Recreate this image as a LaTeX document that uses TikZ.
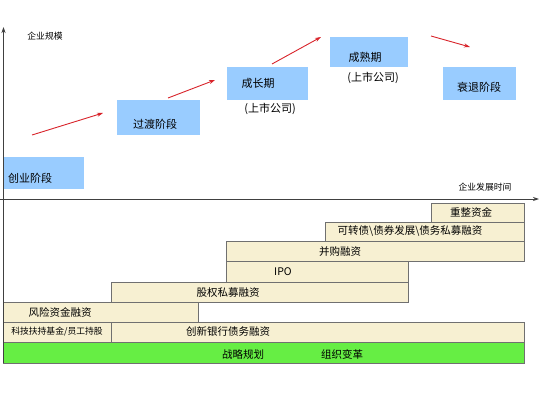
\documentclass[tikz,border=0pt]{standalone}
\usepackage{fontspec}
\setmainfont{Noto Sans CJK SC}
\usetikzlibrary{arrows.meta}
\definecolor{stageblue}{HTML}{99CCFF}
\definecolor{barfill}{HTML}{F7F0D2}
\definecolor{barline}{HTML}{707070}
\definecolor{greenbar}{HTML}{66EE44}
\definecolor{arrowred}{HTML}{D8232A}
\tikzset{
  stage/.style={fill=stageblue, draw=none},
  bar/.style={fill=barfill, draw=barline, line width=0.9pt},
  gbar/.style={fill=greenbar, draw=barline, line width=0.9pt},
  stagetxt/.style={font=\fontsize{11}{13}\selectfont, inner sep=0pt},
  bartxt/.style={font=\fontsize{10.5}{12}\selectfont, inner sep=0pt},
  axistxt/.style={font=\fontsize{8.8}{10}\selectfont, inner sep=0pt},
  redarrow/.style={draw=arrowred, line width=0.9pt, -{Stealth[length=6pt,width=4pt]}},
  axis/.style={draw=black!75, line width=0.9pt, -{Stealth[length=6pt,width=4pt]}}
}
\begin{document}
\begin{tikzpicture}[x=1pt,y=-1pt]
\useasboundingbox (0,0) rectangle (560,420);
% stage boxes
\fill[stage] (3,157) rectangle (84,189);
\node[stagetxt, anchor=west] (s1) at (8,178) {创业阶段};
\fill[stage] (117,100) rectangle (200,135);
\node[stagetxt] (s2) at (155,124) {过渡阶段};
\fill[stage] (227,67) rectangle (308,100);
\node[stagetxt] (s3) at (258,83) {成长期};
\node[stagetxt] (s3b) at (270,109) {(上市公司)};
\fill[stage] (330,37) rectangle (408,67);
\node[stagetxt] (s4) at (365,57) {成熟期};
\node[stagetxt] (s4b) at (373,78) {(上市公司)};
\fill[stage] (443,67) rectangle (516,100);
\node[stagetxt] (s5) at (479,87) {衰退阶段};
% red arrows
\coordinate (a1s) at (32,135); \coordinate (a1e) at (103,113);
\coordinate (a2s) at (168,98); \coordinate (a2e) at (215,80);
\coordinate (a3s) at (272,64); \coordinate (a3e) at (321,37);
\coordinate (a4s) at (431,36); \coordinate (a4e) at (470,47);
\draw[redarrow] (a1s) -- (a1e);
\draw[redarrow] (a2s) -- (a2e);
\draw[redarrow] (a3s) -- (a3e);
\draw[redarrow] (a4s) -- (a4e);
% bars
\draw[bar] (431,203) rectangle (524,222);
\node[bartxt] (b1) at (471,212.5) {重整资金};
\draw[bar] (325,222) rectangle (524,241);
\node[bartxt] (b2) at (410,231.5) {可转债\textbackslash 债券发展\textbackslash 债务私募融资};
\draw[bar] (226,241) rectangle (524,261.5);
\node[bartxt] (b3) at (340,251.5) {并购融资};
\draw[bar] (226,261.5) rectangle (408,282);
\node[bartxt] (b4) at (283,272) {IPO};
\draw[bar] (111,282) rectangle (408,302);
\node[bartxt] (b5) at (228,292.5) {股权私募融资};
\draw[bar] (3,302) rectangle (198,322);
\node[bartxt] (b6) at (60,312.5) {风险资金融资};
\draw[bar] (3,322) rectangle (111,342);
\node[bartxt, font=\fontsize{8.8}{10}\selectfont] (b7) at (57,332) {科技扶持基金/员工持股};
\draw[bar] (111,322) rectangle (524,342);
\node[bartxt] (b8) at (228,332) {创新银行债务融资};
\draw[gbar] (3,342) rectangle (524,363);
\node[bartxt] (g1) at (243,354) {战略规划};
\node[bartxt] (g2) at (342,354) {组织变革};
% axes
\coordinate (yb) at (3.5,363); \coordinate (yt) at (3.5,27);
\coordinate (xl) at (0,199); \coordinate (xr) at (539,199);
\draw[axis] (yb) -- (yt);
\draw[axis] (xl) -- (xr);
\node[axistxt] (ylab) at (45,36) {企业规模};
\node[axistxt] (xlab) at (485,187) {企业发展时间};
\end{tikzpicture}
\end{document}
